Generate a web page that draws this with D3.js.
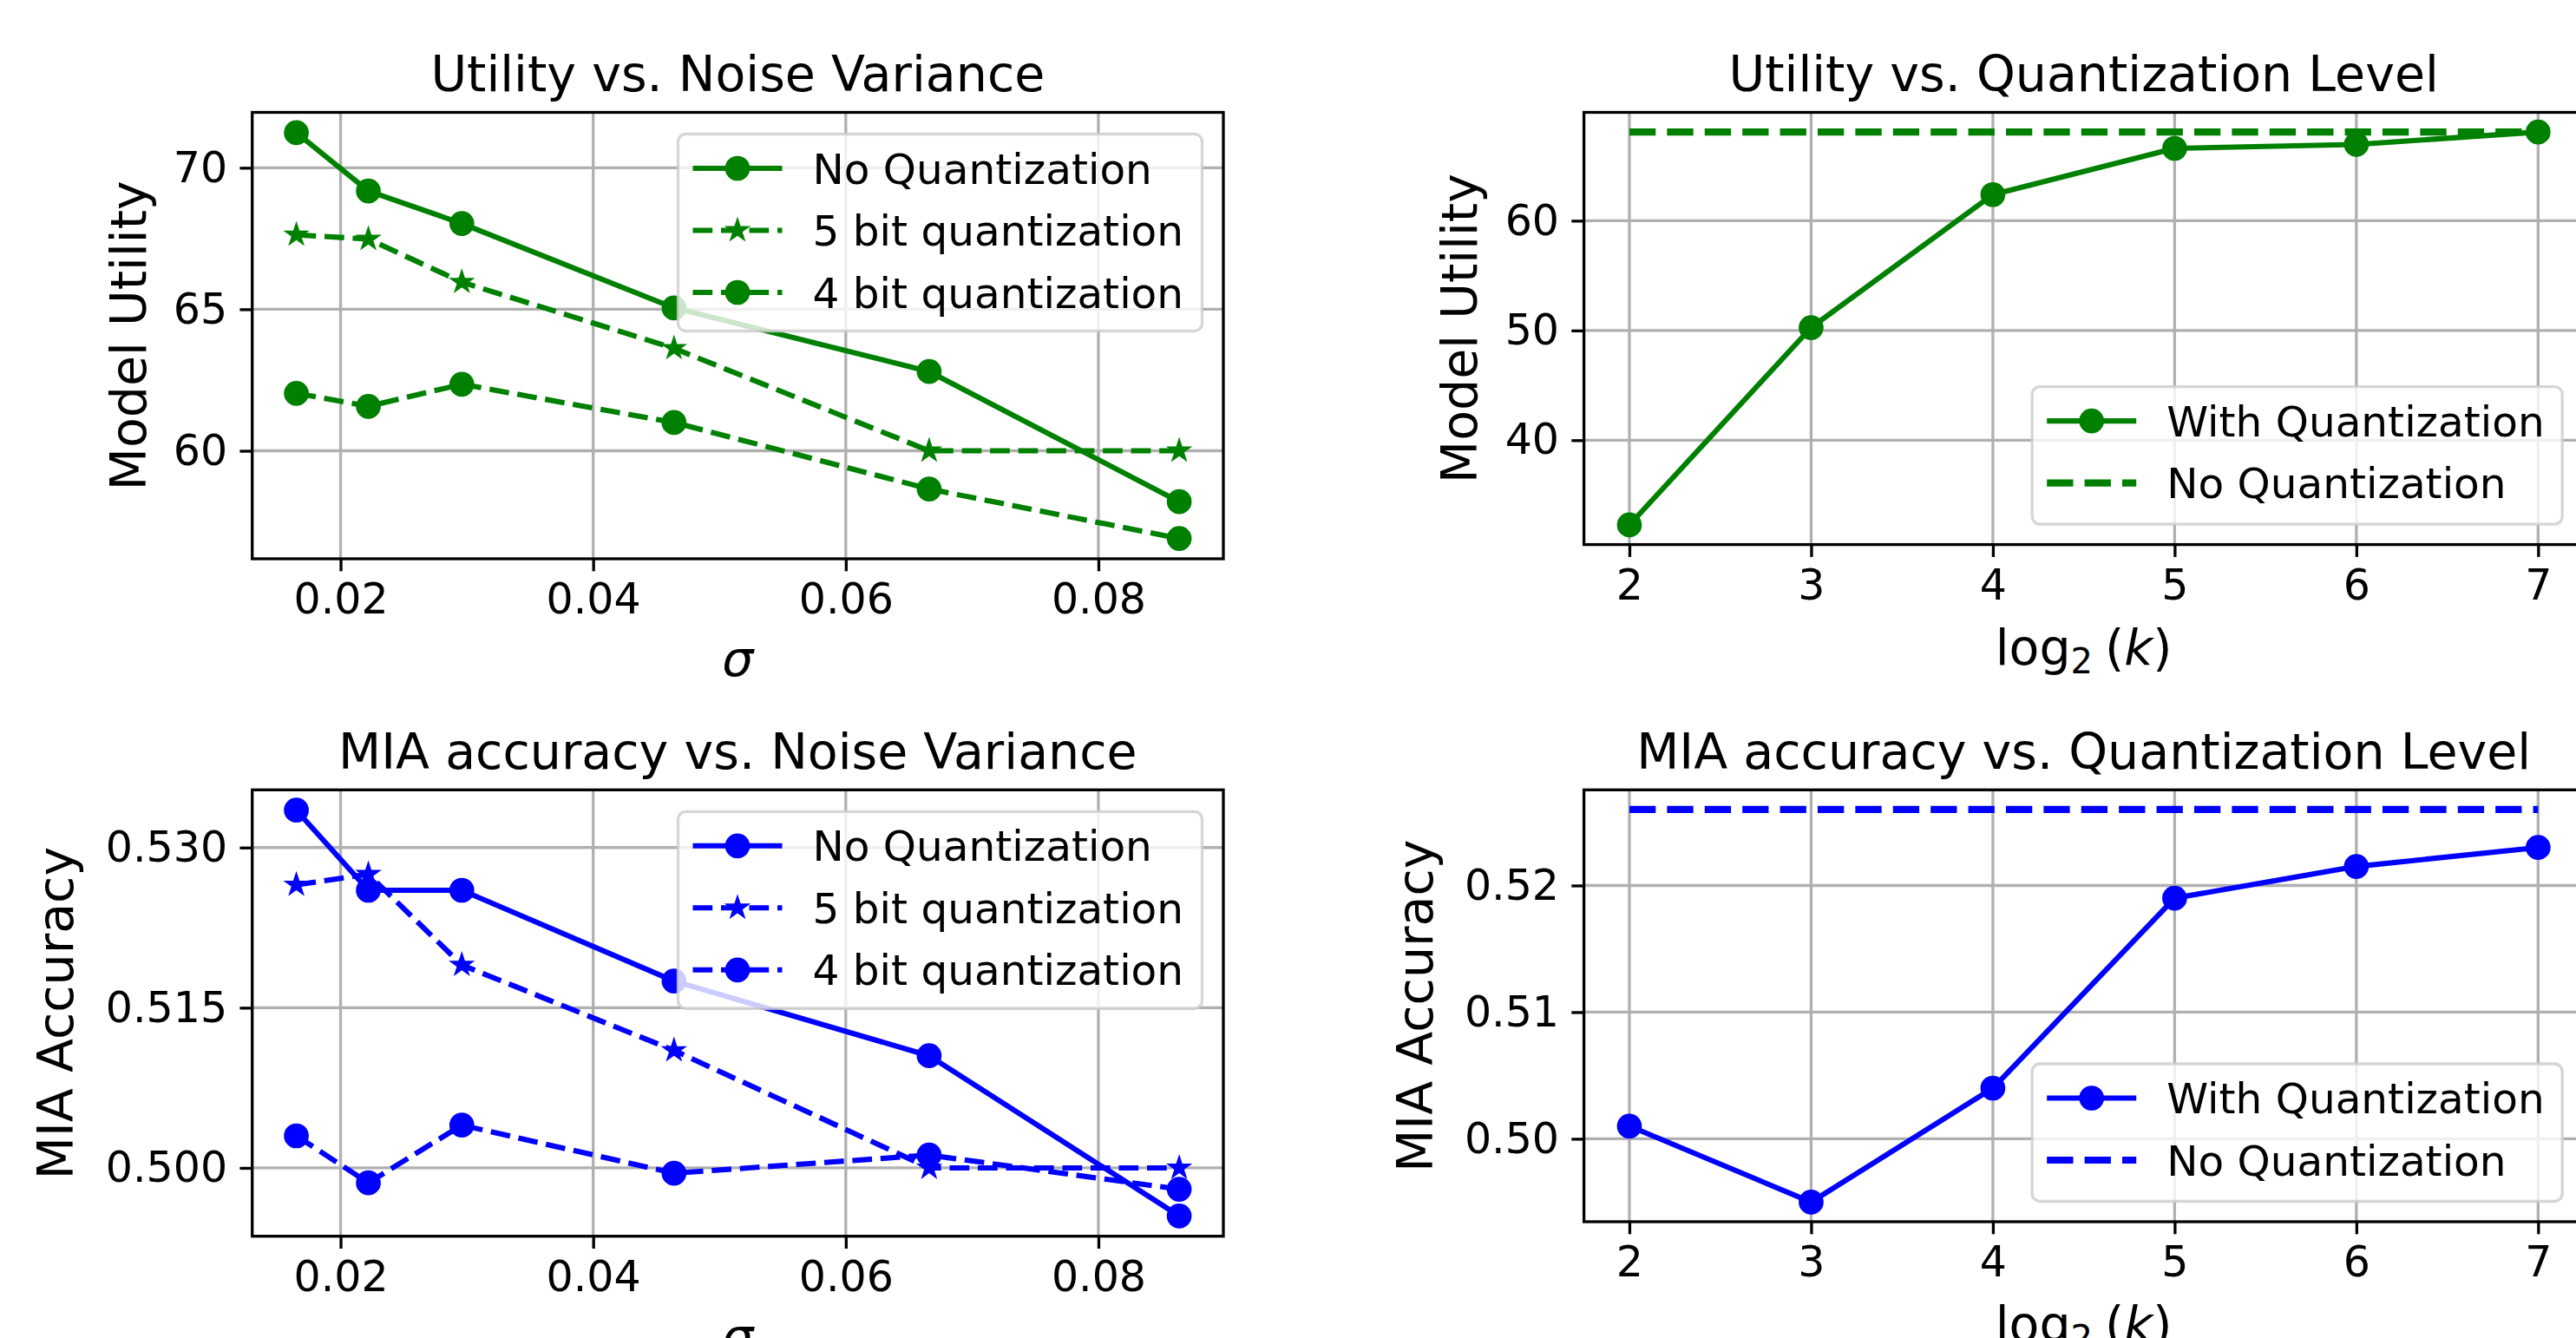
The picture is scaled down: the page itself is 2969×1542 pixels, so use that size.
<!DOCTYPE html>
<html>
<head>
<meta charset="utf-8">
<script src="https://cdn.jsdelivr.net/npm/d3@7"></script>
<style>
  body { margin: 0; background: #ffffff; }
  svg { display: block; font-family: "DejaVu Sans", sans-serif; }
</style>
</head>
<body>
<div id="chart"></div>
<script>
// x values
var sigma = [0.0165, 0.0222, 0.0296, 0.0464, 0.0666, 0.0864];
var sigmaTicks = [0.02, 0.04, 0.06, 0.08];
var logK = [2, 3, 4, 5, 6, 7];
var logKTicks = [2, 3, 4, 5, 6, 7];

// utility vs noise variance
var utilNoQuant = [71.24, 69.18, 68.03, 65.05, 62.80, 58.20];
var util5bit    = [67.63, 67.48, 65.96, 63.62, 60.00, 60.00];
var util4bit    = [62.03, 61.57, 62.35, 61.00, 58.65, 56.90];
var utilTicks   = [60, 65, 70];

// MIA accuracy vs noise variance
var miaNoQuant = [0.5335, 0.5260, 0.5260, 0.5175, 0.5105, 0.4955];
var mia5bit    = [0.5265, 0.5275, 0.5190, 0.5110, 0.5000, 0.5000];
var mia4bit    = [0.5030, 0.4986, 0.5040, 0.4995, 0.5012, 0.4980];
var miaTicks   = [0.500, 0.515, 0.530];

// vs quantization level
var utilWithQuant  = [32.28, 50.26, 62.38, 66.59, 66.95, 68.08];
var utilBaseline   = 68.08;
var utilLevelTicks = [40, 50, 60];

var miaWithQuant  = [0.5010, 0.4950, 0.5040, 0.5190, 0.5215, 0.5230];
var miaBaseline   = 0.526;
var miaLevelTicks = [0.50, 0.51, 0.52];

var sigmaLabels = ['No Quantization', '5 bit quantization', '4 bit quantization'];
var levelLabels = ['With Quantization', 'No Quantization'];

var W = 2969, H = 1542;
var GREEN = '#008000', BLUE = '#0000ff';
var LW = 6.1, LW_THICK = 8.2;
var DASH = '22.7,9.8', DASH_THICK = '30.3,13.1';
var TICK = 14.3, AXW = 3.3;

var svg = d3.select('#chart').append('svg')
    .attr('width', W).attr('height', H);
svg.append('rect').attr('width', W).attr('height', H).attr('fill', '#ffffff');

function sigmaSeries(a, b, c, col) {
    return [
        { ys: a, label: sigmaLabels[0], color: col, lw: LW, dash: null, marker: 'circle' },
        { ys: b, label: sigmaLabels[1], color: col, lw: LW, dash: DASH, marker: 'star' },
        { ys: c, label: sigmaLabels[2], color: col, lw: LW, dash: DASH, marker: 'circle' }
    ];
}
function levelSeries(a, base, col) {
    return [
        { ys: a, label: levelLabels[0], color: col, lw: LW, dash: null, marker: 'circle' },
        { hline: base, label: levelLabels[1], color: col, lw: LW_THICK, dash: DASH_THICK, marker: null }
    ];
}

var panels = [
    { left: 290.7, top: 129.5, right: 1410, bottom: 644,
      xs: sigma, xTicks: sigmaTicks, xFmt: '.2f', yTicks: utilTicks, yFmt: 'd',
      series: sigmaSeries(utilNoQuant, util5bit, util4bit, GREEN),
      title: 'Utility vs. Noise Variance', ylabel: 'Model Utility', ylabelX: 168,
      xlabel: 'sigma', legend: 'upper' },
    { left: 1825.6, top: 129.5, right: 2977.7, bottom: 627.6,
      xs: logK, xTicks: logKTicks, xFmt: 'd', yTicks: utilLevelTicks, yFmt: 'd',
      series: levelSeries(utilWithQuant, utilBaseline, GREEN),
      title: 'Utility vs. Quantization Level', ylabel: 'Model Utility', ylabelX: 1702,
      xlabel: 'log', legend: 'lower' },
    { left: 290.7, top: 910.3, right: 1410, bottom: 1424.7,
      xs: sigma, xTicks: sigmaTicks, xFmt: '.2f', yTicks: miaTicks, yFmt: '.3f',
      series: sigmaSeries(miaNoQuant, mia5bit, mia4bit, BLUE),
      title: 'MIA accuracy vs. Noise Variance', ylabel: 'MIA Accuracy', ylabelX: 84,
      xlabel: 'sigma', legend: 'upper' },
    { left: 1825.6, top: 910.3, right: 2977.7, bottom: 1408,
      xs: logK, xTicks: logKTicks, xFmt: 'd', yTicks: miaLevelTicks, yFmt: '.2f',
      series: levelSeries(miaWithQuant, miaBaseline, BLUE),
      title: 'MIA accuracy vs. Quantization Level', ylabel: 'MIA Accuracy', ylabelX: 1651,
      xlabel: 'log', legend: 'lower' }
];

// matplotlib style 5% margins
function padded(ext) {
    var d = ext[1] - ext[0];
    return [ext[0] - 0.05 * d, ext[1] + 0.05 * d];
}

var circleSym = d3.symbol(d3.symbolCircle).size(Math.PI * 12.3 * 12.3)();
var starSym = d3.symbol(d3.symbolStar).size(10.5 * 10.5 / 0.8908130915292852)();

function addMarker(sel, type, color) {
    sel.attr('d', type == 'star' ? starSym : circleSym)
        .attr('fill', color)
        .attr('stroke', color)
        .attr('stroke-width', type == 'star' ? 3.4 : 4.1)
        .attr('stroke-linejoin', 'miter');
}

function drawPanel(p) {
    var allY = [];
    p.series.forEach(function(s) {
        if (s.hline != null) allY.push(s.hline); else allY = allY.concat(s.ys);
    });
    var x = d3.scaleLinear().domain(padded(d3.extent(p.xs))).range([p.left, p.right]);
    var y = d3.scaleLinear().domain(padded(d3.extent(allY))).range([p.bottom, p.top]);

    var g = svg.append('g');

    // grid
    g.selectAll('.gx').data(p.xTicks).enter().append('line')
        .attr('x1', function(d) { return x(d); }).attr('x2', function(d) { return x(d); })
        .attr('y1', p.top).attr('y2', p.bottom)
        .attr('stroke', '#b0b0b0').attr('stroke-width', AXW);
    g.selectAll('.gy').data(p.yTicks).enter().append('line')
        .attr('x1', p.left).attr('x2', p.right)
        .attr('y1', function(d) { return y(d); }).attr('y2', function(d) { return y(d); })
        .attr('stroke', '#b0b0b0').attr('stroke-width', AXW);

    var line = d3.line().x(function(d) { return x(d[0]); }).y(function(d) { return y(d[1]); });

    // dashed baselines under the measured curves
    var order = p.series.slice().sort(function(a, b) { return (b.hline != null) - (a.hline != null); });
    order.forEach(function(s) {
        var pts = s.hline != null
            ? [[p.xs[0], s.hline], [p.xs[p.xs.length - 1], s.hline]]
            : p.xs.map(function(v, i) { return [v, s.ys[i]]; });
        g.append('path').datum(pts)
            .attr('d', line)
            .attr('fill', 'none')
            .attr('stroke', s.color)
            .attr('stroke-width', s.lw)
            .attr('stroke-dasharray', s.dash)
            .attr('stroke-linejoin', 'round');
        if (s.marker) {
            g.selectAll(null).data(pts).enter().append('path')
                .attr('transform', function(d) { return 'translate(' + x(d[0]) + ',' + y(d[1]) + ')'; })
                .call(addMarker, s.marker, s.color);
        }
    });

    // axes
    var xAxis = g.append('g').attr('transform', 'translate(0,' + p.bottom + ')')
        .call(d3.axisBottom(x).tickValues(p.xTicks).tickFormat(d3.format(p.xFmt))
            .tickSize(TICK).tickPadding(TICK));
    var yAxis = g.append('g').attr('transform', 'translate(' + p.left + ',0)')
        .call(d3.axisLeft(y).tickValues(p.yTicks).tickFormat(d3.format(p.yFmt))
            .tickSize(TICK).tickPadding(TICK));
    [xAxis, yAxis].forEach(function(a) {
        a.attr('font-family', '"DejaVu Sans", sans-serif').attr('font-size', 49);
        a.select('.domain').remove();
        a.selectAll('.tick line').attr('stroke', '#000').attr('stroke-width', AXW);
        a.selectAll('.tick text').attr('fill', '#000');
    });

    // spines
    g.append('rect')
        .attr('x', p.left).attr('y', p.top)
        .attr('width', p.right - p.left).attr('height', p.bottom - p.top)
        .attr('fill', 'none').attr('stroke', '#000').attr('stroke-width', AXW);

    // title
    var cx = (p.left + p.right) / 2;
    g.append('text').attr('x', cx).attr('y', p.top - 24.6)
        .attr('text-anchor', 'middle').attr('font-size', 57).text(p.title);

    // y label
    g.append('text')
        .attr('transform', 'translate(' + p.ylabelX + ',' + (p.top + p.bottom) / 2 + ') rotate(-90)')
        .attr('text-anchor', 'middle').attr('font-size', 57).text(p.ylabel);

    // x label
    if (p.xlabel == 'sigma') {
        g.append('text').attr('x', cx).attr('y', p.bottom + 135)
            .attr('text-anchor', 'middle').attr('font-size', 57)
            .attr('font-style', 'italic').text('σ');
    } else {
        var t = g.append('text').attr('x', cx).attr('y', p.bottom + 138)
            .attr('text-anchor', 'middle').attr('font-size', 57);
        t.append('tspan').text('log');
        t.append('tspan').attr('font-size', 40).attr('dy', 10).text('2');
        t.append('tspan').attr('dy', -10).attr('dx', 14).text('(');
        t.append('tspan').attr('font-style', 'italic').text('k');
        t.append('tspan').text(')');
    }

    // legend
    var n = p.series.length;
    var lw = n == 3 ? 604 : 611;
    var lh = n == 3 ? 227 : 158.5;
    var lx = p.right - 24.5 - lw;
    var ly = p.legend == 'upper' ? p.top + 25 : p.bottom - 23.5 - lh;
    var lg = g.append('g').attr('transform', 'translate(' + lx + ',' + ly + ')');
    lg.append('rect').attr('width', lw).attr('height', lh)
        .attr('rx', 9).attr('ry', 9)
        .attr('fill', '#ffffff').attr('fill-opacity', 0.8)
        .attr('stroke', '#cccccc').attr('stroke-opacity', 0.8).attr('stroke-width', AXW);
    p.series.forEach(function(s, i) {
        var ry = 39.5 + i * 71.5;
        lg.append('line').attr('x1', 17).attr('x2', 120).attr('y1', ry).attr('y2', ry)
            .attr('stroke', s.color).attr('stroke-width', s.lw)
            .attr('stroke-dasharray', s.dash);
        if (s.marker) {
            lg.append('path').attr('transform', 'translate(68.5,' + ry + ')')
                .call(addMarker, s.marker, s.color);
        }
        lg.append('text').attr('x', 155).attr('y', ry + 17.5)
            .attr('font-size', 48.5).text(s.label);
    });
}

panels.forEach(drawPanel);
</script>
</body>
</html>
